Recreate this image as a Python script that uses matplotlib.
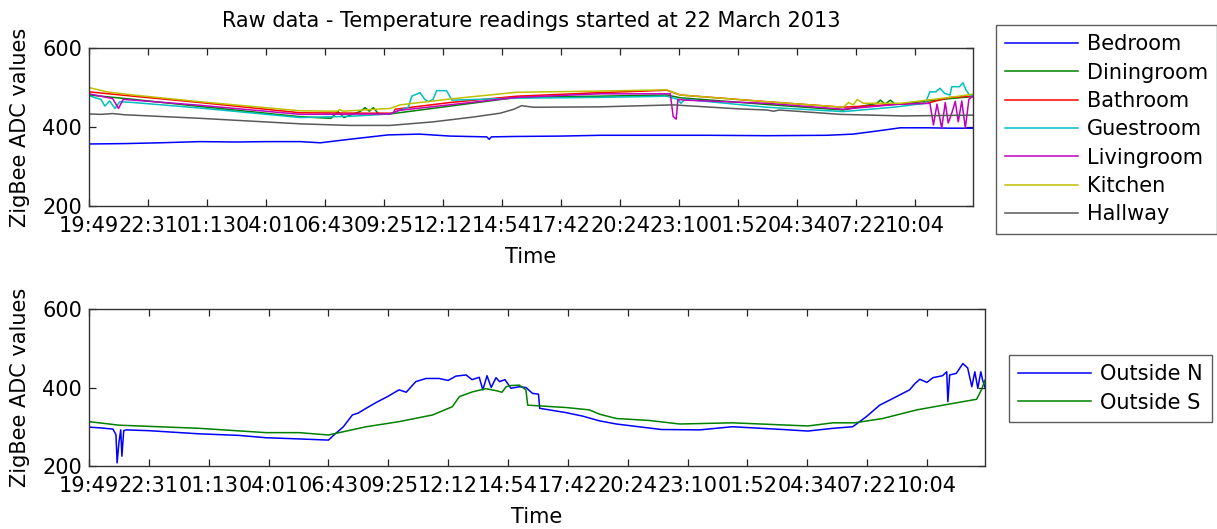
import matplotlib
matplotlib.use("Agg")
import matplotlib.pyplot as plt

plt.rcParams['font.family'] = ['DejaVu Sans']

# ---------------- data ----------------
tick_pos = [0, 100, 200, 300, 400, 500, 600, 700, 800, 900, 1000, 1100, 1200, 1300, 1400]
tick_labels = ["19:49", "22:31", "01:13", "04:01", "06:43", "09:25", "12:12", "14:54",
               "17:42", "20:24", "23:10", "01:52", "04:34", "07:22", "10:04"]

bedroom_x = [0, 60, 120, 188, 250, 300, 358, 392, 442, 507, 560, 612, 674, 678, 682, 720, 800, 866,
             950, 1050, 1150, 1250, 1295, 1346, 1375, 1420, 1460, 1498]
bedroom_y = [357, 358, 360, 363, 362, 363, 363, 360, 369, 380, 382, 377, 375, 369, 375, 376, 377, 379,
             379, 379, 378, 379, 382, 392, 398, 398, 397, 397]

diningroom_x = [0, 75, 188, 358, 410, 422, 432, 459, 468, 475, 482, 490, 510, 725, 866, 979, 1002,
                1149, 1278, 1335, 1341, 1349, 1358, 1366, 1375, 1459, 1498]
diningroom_y = [481, 470, 452, 426, 422, 439, 424, 439, 449, 440, 449, 434, 433, 475, 478, 481, 474,
                457, 443, 460, 468, 458, 468, 458, 458, 472, 477]

bathroom_x = [0, 75, 188, 358, 471, 515, 519, 612, 725, 866, 979, 1002, 1149, 1278, 1375, 1420, 1459, 1498]
bathroom_y = [489, 478, 462, 436, 435, 435, 445, 462, 478, 487, 493, 481, 464, 450, 458, 460, 475, 478]

guestroom_x = [0, 20, 27, 35, 44, 52, 75, 188, 358, 442, 510, 541, 547, 561, 569, 575, 583, 589, 606,
               615, 725, 866, 979, 998, 1003, 1010, 1149, 1278, 1363, 1417, 1425, 1435, 1442, 1450,
               1459, 1462, 1475, 1481, 1486, 1492, 1498]
guestroom_y = [479, 470, 453, 466, 447, 464, 462, 448, 424, 427, 433, 450, 478, 487, 470, 464, 470, 492, 492,
               468, 473, 475, 478, 470, 460, 470, 450, 439, 450, 460, 489, 489, 498, 485,
               481, 502, 502, 512, 494, 481, 477]

livingroom_x = [0, 40, 50, 58, 75, 188, 358, 510, 525, 725, 866, 985, 990, 995, 998, 1010, 1149, 1278,
                1375, 1425, 1431, 1437, 1445, 1451, 1456, 1462, 1468, 1473, 1479, 1485, 1491, 1498]
livingroom_y = [484, 472, 447, 470, 468, 455, 432, 433, 442, 475, 484, 484, 426, 420, 470, 468, 460, 445,
                458, 460, 405, 458, 397, 462, 410, 435, 465, 413, 466, 397, 470, 478]

kitchen_x = [0, 30, 75, 188, 358, 420, 425, 430, 510, 527, 612, 725, 866, 979, 1002, 1149, 1278, 1287,
             1295, 1302, 1312, 1375, 1459, 1498]
kitchen_y = [500, 489, 481, 464, 441, 440, 444, 440, 447, 456, 471, 488, 491, 494, 481, 464, 450, 462,
             456, 470, 460, 460, 475, 483]

hallway_x = [0, 20, 40, 60, 188, 358, 442, 510, 583, 650, 697, 720, 733, 753, 866, 990, 1100, 1149,
             1160, 1170, 1273, 1380, 1498]
hallway_y = [433, 432, 434, 431, 422, 408, 404, 404, 413, 425, 435, 445, 454, 450, 451, 456, 446, 443,
             440, 443, 432, 428, 430]

outN_x = [0, 20, 40, 45, 47, 50, 53, 55, 58, 62, 100, 184, 250, 296, 351, 400, 410, 425, 440, 450, 463,
          480, 499, 518, 530, 546, 563, 585, 600, 613, 630, 640, 652, 658, 665, 672, 680, 686, 695, 705,
          719, 730, 741, 751, 753, 797, 825, 853, 881, 956, 1020, 1075, 1159, 1201, 1243, 1276, 1299,
          1321, 1343, 1371, 1380, 1388, 1400, 1410, 1426, 1433, 1435, 1438, 1449, 1460, 1468, 1475,
          1480, 1485, 1490, 1493, 1497]
outN_y = [299, 297, 294, 280, 208, 260, 292, 225, 290, 292, 290, 282, 278, 272, 269, 266, 280, 300, 330,
          335, 347, 362, 377, 394, 388, 415, 423, 423, 418, 429, 432, 420, 426, 394, 430, 400, 425, 415,
          420, 398, 402, 400, 385, 383, 347, 336, 327, 315, 307, 293, 292, 300, 293, 289, 296, 300, 326,
          355, 372, 394, 410, 421, 413, 425, 430, 440, 364, 432, 436, 461, 450, 402, 440, 398, 440, 419, 400]

outS_x = [0, 50, 184, 296, 351, 400, 463, 518, 574, 607, 619, 641, 663, 680, 690, 697, 705, 719, 730,
          733, 797, 836, 853, 881, 936, 987, 1075, 1201, 1243, 1279, 1326, 1383, 1438, 1483, 1491, 1497]
outS_y = [313, 304, 296, 285, 285, 279, 300, 313, 330, 351, 377, 389, 397, 392, 388, 402, 405, 406, 394,
          355, 349, 343, 332, 321, 316, 307, 310, 302, 310, 310, 321, 343, 358, 370, 394, 419]

top_series = [
    ("Bedroom", bedroom_x, bedroom_y, "#0000ff"),
    ("Diningroom", diningroom_x, diningroom_y, "#008000"),
    ("Bathroom", bathroom_x, bathroom_y, "#ff0000"),
    ("Guestroom", guestroom_x, guestroom_y, "#00bfbf"),
    ("Livingroom", livingroom_x, livingroom_y, "#bf00bf"),
    ("Kitchen", kitchen_x, kitchen_y, "#bfbf00"),
    ("Hallway", hallway_x, hallway_y, "#595959"),
]
bottom_series = [
    ("Outside N", outN_x, outN_y, "#0000ff"),
    ("Outside S", outS_x, outS_y, "#008000"),
]

FS = 15
W, H = 1217, 529
fig = plt.figure(figsize=(W / 100, H / 100), dpi=100)


def style(ax, xmax):
    ax.set_xlim(0, xmax)
    ax.set_ylim(200, 600)
    ax.set_yticks([200, 400, 600])
    ax.set_xticks(tick_pos)
    ax.set_xticklabels(tick_labels)
    ax.tick_params(direction='in', length=5, width=0.9, colors='#222222',
                   top=True, right=True, labelsize=FS, pad=5)
    ax.tick_params(axis='x', labelcolor='black', pad=7)
    ax.tick_params(axis='y', labelcolor='black')
    for s in ax.spines.values():
        s.set_color('#333333')
        s.set_linewidth(1.0)
    ax.set_xlabel("Time", fontsize=FS, labelpad=8)
    ax.set_ylabel("ZigBee ADC values", fontsize=FS, labelpad=9)


def legend(ax, x0, y0):
    lg = ax.legend(loc='upper left', bbox_to_anchor=(x0 / W, 1 - y0 / H),
                   bbox_transform=fig.transFigure, fontsize=FS, frameon=True, fancybox=False,
                   edgecolor='#333333', handlelength=3.5, handletextpad=0.4, labelspacing=0.4,
                   borderpad=0.45, borderaxespad=0)
    lg.get_frame().set_linewidth(1.0)
    return lg


ax1 = fig.add_axes([89 / W, 1 - 206 / H, (973 - 89) / W, (206 - 48) / H])
for name, xs, ys, c in top_series:
    ax1.plot(xs, ys, color=c, lw=1.1, label=name)
style(ax1, 1498)
ax1.set_title("Raw data - Temperature readings started at 22 March 2013", fontsize=FS, pad=15)
legend(ax1, 996, 25)

ax2 = fig.add_axes([89 / W, 1 - 466 / H, (985 - 89) / W, (466 - 309) / H])
for name, xs, ys, c in bottom_series:
    ax2.plot(xs, ys, color=c, lw=1.1, label=name)
style(ax2, 1497)
legend(ax2, 1009, 355)

fig.savefig("out.png", dpi=100)
